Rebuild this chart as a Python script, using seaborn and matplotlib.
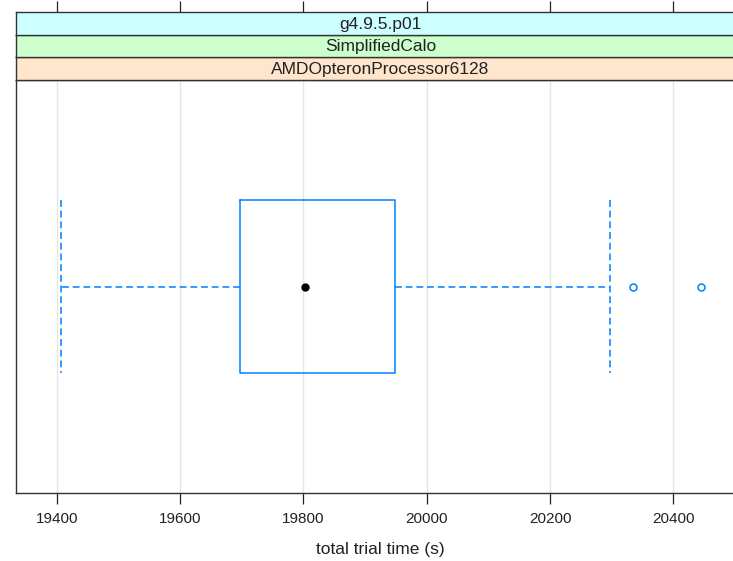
import numpy as np
import pandas as pd
import matplotlib
matplotlib.use("Agg")
import matplotlib.pyplot as plt
import seaborn as sns

# Trial run times (seconds) for one configuration
trial_times = [19407, 19560, 19650, 19698, 19735, 19770, 19803,
               19850, 19900, 19948, 20297, 20334, 20445]
processor = "AMDOpteronProcessor6128"
calo_model = "SimplifiedCalo"
geant_version = "g4.9.5.p01"
x_ticks = [19400, 19600, 19800, 20000, 20200, 20400]
x_range = (19334, 20516)

# strip labels, bottom to top, with their background colours
strip_labels = [processor, calo_model, geant_version]
strip_colors = ["#ffe5cc", "#ccffcc", "#ccffff"]

BLUE = "#0080ff"

sns.set_theme(style="white")
plt.rcParams["font.family"] = ["Liberation Sans", "DejaVu Sans"]

df = pd.DataFrame({"time": trial_times, "processor": [processor] * len(trial_times)})

W, H = 733, 561
fig = plt.figure(figsize=(W / 100, H / 100), dpi=100)

left_px, right_px = 16, 745
panel_top, panel_bottom = 80, 493
strip_h = (panel_top - 12) / 3

def frac_box(x0, y0, x1, y1):
    return [x0 / W, 1 - y1 / H, (x1 - x0) / W, (y1 - y0) / H]

ax = fig.add_axes(frac_box(left_px, panel_top, right_px, panel_bottom))

dash = (0, (4.5, 2.5))
sns.boxplot(
    data=df, x="time", y="processor", orient="h", width=0.5, whis=1.5,
    fill=False, color=BLUE, linewidth=1.1,
    medianprops={"visible": False},
    whiskerprops={"linestyle": dash, "color": BLUE},
    capprops={"linestyle": dash, "color": BLUE},
    capwidths=0.5,
    flierprops={"marker": "o", "markersize": 5, "markerfacecolor": "none",
                "markeredgecolor": BLUE, "markeredgewidth": 1.1},
    ax=ax,
)
# median shown as a solid dot
ax.plot(np.median(trial_times), 0, "o", color="black", markersize=5, zorder=5)

ax.set_xlim(*x_range)
ax.set_ylim(0.6, -0.6)
ax.set_yticks([])
ax.set_ylabel("")
ax.set_xticks(x_ticks)
ax.set_xticklabels([str(t) for t in x_ticks], fontsize=11, color="#222222")
ax.tick_params(axis="x", direction="out", length=8, width=0.9, color="#222222",
               pad=6, bottom=True)
ax.grid(axis="x", color="#e6e6e6", linewidth=1.0)
ax.set_axisbelow(True)
for s in ax.spines.values():
    s.set_color("#333333")
    s.set_linewidth(1.0)
ax.set_xlabel("total trial time (s)", fontsize=12.5, color="#222222", labelpad=11)

# conditioning strips stacked above the panel
for i, (lab, col) in enumerate(zip(strip_labels, strip_colors)):
    y1 = panel_top - i * strip_h
    y0 = y1 - strip_h
    sax = fig.add_axes(frac_box(left_px, y0, right_px, y1))
    sax.set_facecolor(col)
    sax.set_xlim(*x_range)
    sax.set_yticks([])
    for s in sax.spines.values():
        s.set_color("#333333")
        s.set_linewidth(1.0)
    if i == len(strip_labels) - 1:
        sax.set_xticks(x_ticks)
        sax.xaxis.set_ticks_position("top")
        sax.tick_params(axis="x", direction="out", length=8, width=0.9,
                        color="#222222", labeltop=False, labelbottom=False)
    else:
        sax.set_xticks([])
    sax.text(0.5, 0.47, lab, transform=sax.transAxes, ha="center", va="center",
             fontsize=12.5, color="#222222")

fig.savefig("out.png", dpi=100)
